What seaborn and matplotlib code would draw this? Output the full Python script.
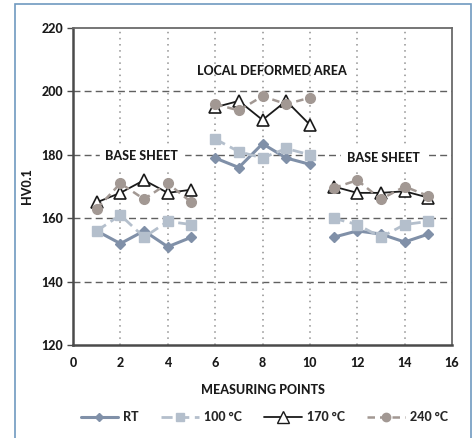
import numpy as np
import pandas as pd
import seaborn as sns
import matplotlib.pyplot as plt
from matplotlib.lines import Line2D
from matplotlib.patches import Rectangle

points = list(range(1, 16))
rt = [156, 152, 156, 151, 154, 179, 176, 183.5, 179, 177, 154, 156, 155, 152.5, 155]
t100 = [156, 161, 154, 159, 158, 185, 181, 179, 182, 180, 160, 158, 154, 158, 159]
t170 = [165, 168, 172, 168, 169, 195, 197, 191, 197, 189.5, 170, 168, 168, 168.5, 166.5]
t240 = [163, 171, 166, 171, 165, 196, 194, 198.5, 196, 198, 169.5, 172, 166, 170, 167]
segments = ["left"] * 5 + ["local"] * 5 + ["right"] * 5
series_names = ["RT", "100 °C", "170 °C", "240 °C"]

df = pd.DataFrame({"point": points, "segment": segments,
                   "RT": rt, "100 °C": t100, "170 °C": t170, "240 °C": t240})

sns.set_style("white")
plt.rcParams['font.family'] = ['Lato', 'DejaVu Sans']
plt.rcParams['font.weight'] = 900
W = 900
FS = 9

fig = plt.figure(figsize=(4.76, 4.38), dpi=100)
ax = fig.add_axes([0.1534, 0.2123, 0.7962, 0.7237])

# outer frame
fig.patches.append(Rectangle((15 / 476, -0.02), 456 / 476, 1 - 4 / 438 + 0.02,
                             transform=fig.transFigure, fill=False,
                             edgecolor="#6f9ac0", linewidth=1.2))

styles = {
    "RT": dict(color="#8090a8", marker="D", markersize=5, linestyle="-", lw=2.2,
               markerfacecolor="#8090a8", markeredgecolor="#8090a8"),
    "100 °C": dict(color="#b4bfcc", marker="s", markersize=7, linestyle=(0, (4, 2)), lw=2,
                   markerfacecolor="#b4bfcc", markeredgecolor="#b4bfcc"),
    "170 °C": dict(color="#1a1a1a", marker="^", markersize=9, linestyle="-", lw=1.3,
                   markerfacecolor="white", markeredgecolor="#1a1a1a", markeredgewidth=1.2),
    "240 °C": dict(color="#a29893", marker="o", markersize=7, linestyle=(0, (3, 2)), lw=1.8,
                   markerfacecolor="#a29893", markeredgecolor="#a29893"),
}

for name in series_names:
    st = styles[name]
    sns.lineplot(data=df, x="point", y=name, units="segment", estimator=None,
                 ax=ax, color=st["color"], linestyle=st["linestyle"], lw=st["lw"],
                 marker=st["marker"], markersize=st["markersize"],
                 markerfacecolor=st["markerfacecolor"],
                 markeredgecolor=st["markeredgecolor"],
                 markeredgewidth=st.get("markeredgewidth", 1), legend=False)

ax.set_xlim(0, 16)
ax.set_ylim(120, 220)
ax.set_xticks(range(0, 17, 2))
ax.set_yticks(range(120, 221, 20))
ax.grid(False)
for y in range(140, 220, 20):
    ax.axhline(y, color="#606060", lw=1, linestyle=(0, (5, 3)), zorder=0)
for x in range(2, 16, 2):
    ax.axvline(x, color="#909090", lw=1.1, linestyle=(0, (1, 3)), zorder=0)

for side in ["left", "bottom"]:
    ax.spines[side].set_color("#4a4a4a")
    ax.spines[side].set_linewidth(1.8)
for side in ["top", "right"]:
    ax.spines[side].set_color("#6a6a6a")
    ax.spines[side].set_linewidth(1.3)
ax.tick_params(axis="y", left=True, length=4, width=1, color="#4a4a4a", pad=3)
ax.tick_params(axis="x", pad=5)
ax.tick_params(labelsize=FS)
for lab in ax.get_xticklabels() + ax.get_yticklabels():
    lab.set_fontweight(W)
    lab.set_color("#1a1a1a")

ax.set_xlabel("MEASURING POINTS", fontsize=FS, fontweight=W, labelpad=11, color="#1a1a1a")
ax.set_ylabel("HV0.1", fontsize=FS, fontweight=W, labelpad=6, color="#1a1a1a")

ax.text(2.9, 179.5, "BASE SHEET", ha="center", va="center", fontsize=FS,
        fontweight=W, backgroundcolor="white", color="#1a1a1a")
ax.text(13.1, 179, "BASE SHEET", ha="center", va="center", fontsize=FS,
        fontweight=W, backgroundcolor="white", color="#1a1a1a")
ax.text(8.4, 206.5, "LOCAL DEFORMED AREA", ha="center", va="center", fontsize=FS,
        fontweight=W, color="#1a1a1a")

handles = []
for name in series_names:
    st = styles[name]
    handles.append(Line2D([], [], color=st["color"], linestyle=st["linestyle"], lw=st["lw"],
                          marker=st["marker"], markersize=st["markersize"] - 1,
                          markerfacecolor=st["markerfacecolor"],
                          markeredgecolor=st["markeredgecolor"]))
fig.legend(handles, series_names, loc="center", bbox_to_anchor=(0.555, 0.048), ncol=4,
           frameon=False, handlelength=3.0, columnspacing=1.8,
           handletextpad=0.4, prop={"weight": W, "size": FS})

fig.savefig("out.png", dpi=100)
